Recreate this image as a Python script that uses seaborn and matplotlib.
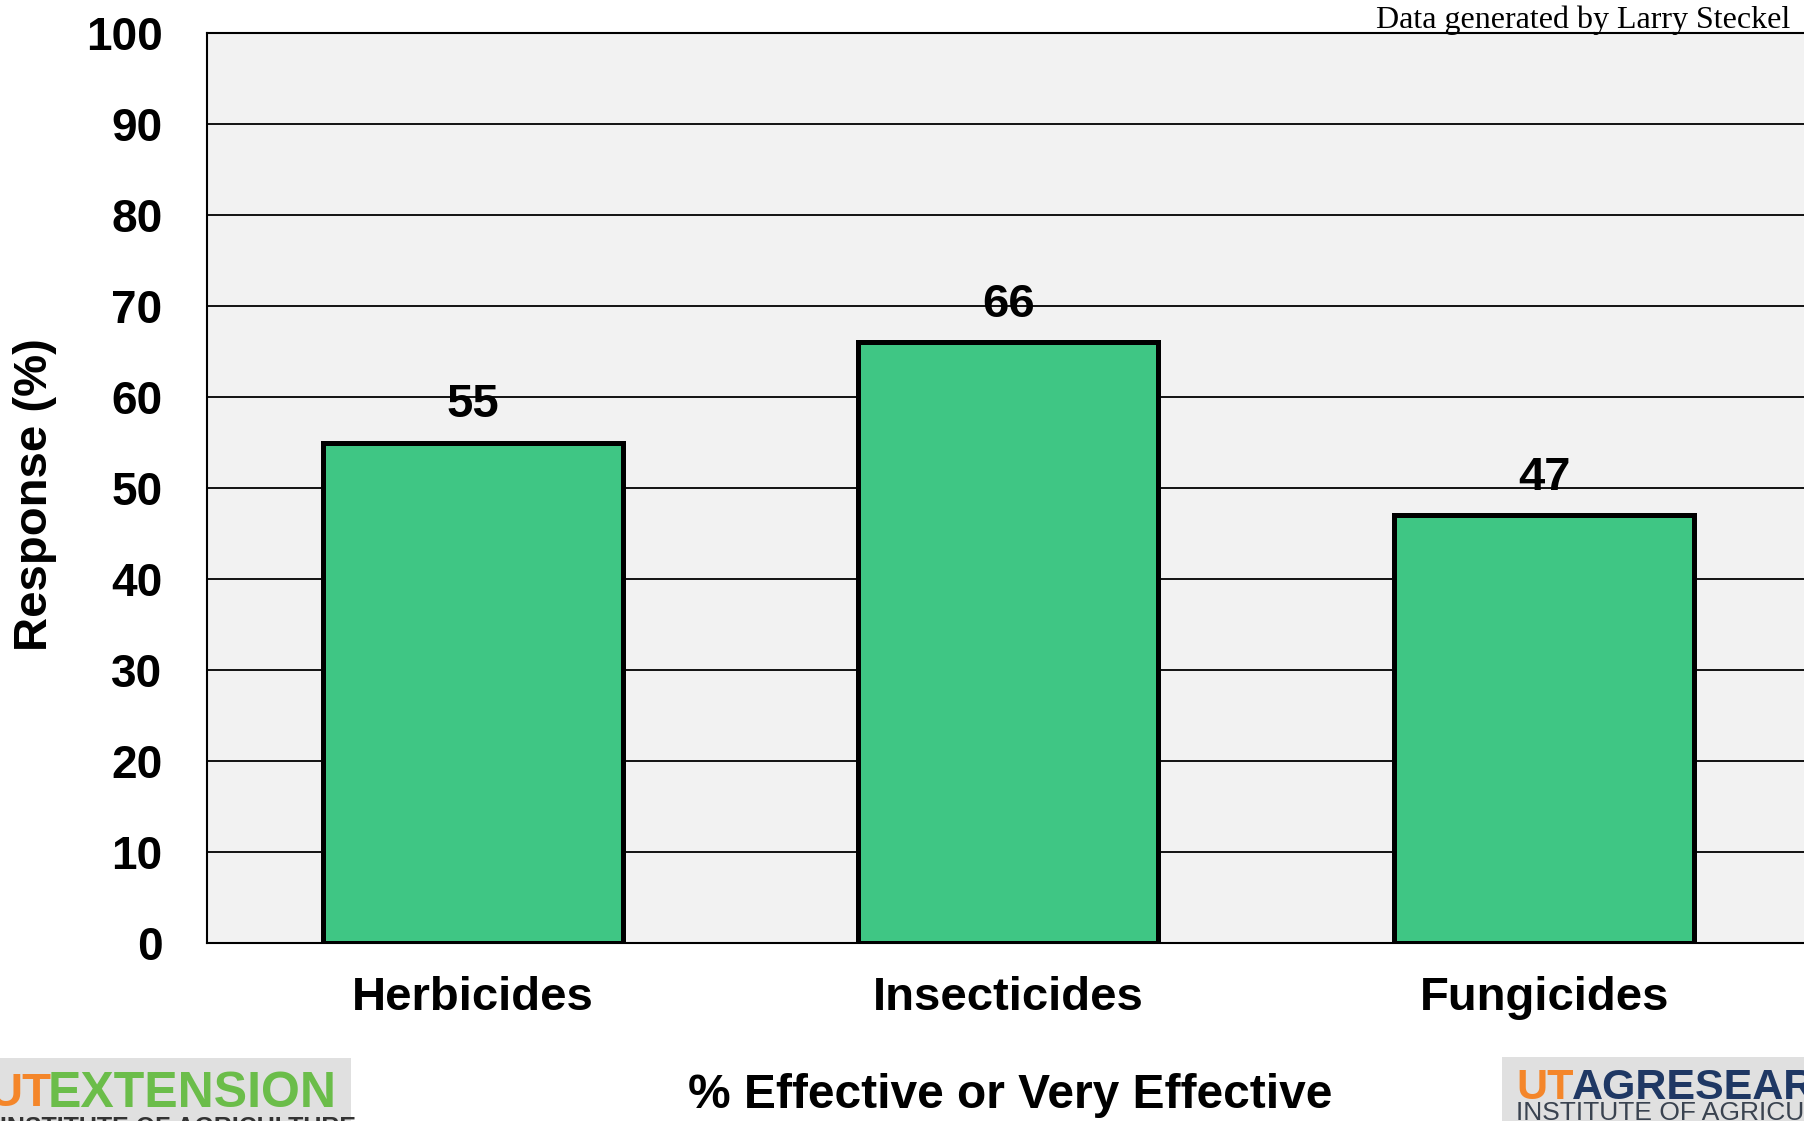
import pandas as pd
import numpy as np
import matplotlib.pyplot as plt
import seaborn as sns
from matplotlib.patches import Rectangle

#Survey results
categories = ["Herbicides", "Insecticides", "Fungicides"]
responses = [55, 66, 47]
yticks = [0, 10, 20, 30, 40, 50, 60, 70, 80, 90, 100]

df = pd.DataFrame({"Category": categories, "Response": responses})

sns.set_style("white")
plt.rcParams['font.family'] = ['Liberation Sans', 'DejaVu Sans']
plt.rcParams['text.color'] = 'black'
plt.rcParams['xtick.color'] = 'black'
plt.rcParams['ytick.color'] = 'black'

fig = plt.figure(figsize=(18.04, 11.21), dpi=100)
ax = fig.add_axes([207/1804, 1 - 943/1121, 1 - 207/1804, (943 - 33)/1121])
ax.set_facecolor("#F2F2F2")

sns.barplot(data=df, x="Category", y="Response", color="#3FC684", saturation=1,
            width=0.56, edgecolor="black", linewidth=3.6, ax=ax, zorder=3)

#Value labels on top of bars
for i, v in enumerate(responses):
    ax.text(i, v + 1.7, str(v), ha="center", va="bottom", fontsize=34, fontweight="bold")

ax.set_ylim(0, 100)
ax.set_xlim(-0.496, 2.485)
ax.set_yticks(yticks)
ax.yaxis.grid(True, color="black", linewidth=1.3, zorder=0)
ax.set_axisbelow(True)
for s in ["left", "bottom", "top"]:
    ax.spines[s].set_visible(True)
    ax.spines[s].set_color("black")
    ax.spines[s].set_linewidth(1.5)
ax.spines["right"].set_visible(False)

ax.tick_params(axis="y", length=0, pad=32, labelsize=33)
ax.tick_params(axis="x", length=0, pad=24, labelsize=34)
for lab in ax.get_xticklabels() + ax.get_yticklabels():
    lab.set_fontweight("bold")
ax.set_xlabel("")
ax.set_ylabel("")

fig.text(35/1804, 1 - 495/1121, "Response (%)", rotation=90, ha="center", va="center",
         fontsize=34, fontweight="bold")
fig.text(1010/1804, 1 - 1095/1121, "% Effective or Very Effective", ha="center", va="center",
         fontsize=34.5, fontweight="bold")
fig.text(1790/1804, 1 - 28/1121, "Data generated by Larry Steckel", ha="right", va="baseline",
         fontsize=23, family=["Liberation Serif", "DejaVu Serif"])

#Logo boxes
fig.patches.append(Rectangle((0, 0), 351/1804, (1121 - 1058)/1121, transform=fig.transFigure,
                             facecolor="#E0E0E0", edgecolor="none", zorder=0))
fig.text(-12/1804, 1 - 1094/1121, "UT", color="#F4862A", fontsize=34, fontweight="bold", va="center")
fig.text(48/1804, 1 - 1094/1121, "EXTENSION", color="#6BBD4A", fontsize=36, fontweight="bold", va="center")
fig.text(0, 1 - 1128/1121, "INSTITUTE OF AGRICULTURE", color="#333333", fontsize=18, fontweight="bold", va="center")

fig.patches.append(Rectangle((1502/1804, 0), 1, (1121 - 1057)/1121, transform=fig.transFigure,
                             facecolor="#E0E0E0", edgecolor="none", zorder=0))
fig.text(1516/1804, 1 - 1088/1121, "UT", color="#F4862A", fontsize=31, fontweight="bold", va="center")
fig.text(1572/1804, 1 - 1088/1121, "AGRESEARCH", color="#1F3864", fontsize=31, fontweight="bold", va="center")
fig.text(1516/1804, 1 - 1113/1121, "INSTITUTE OF AGRICULTURE", color="#3A4350", fontsize=19, va="center")

plt.savefig("out.png", dpi=100)
